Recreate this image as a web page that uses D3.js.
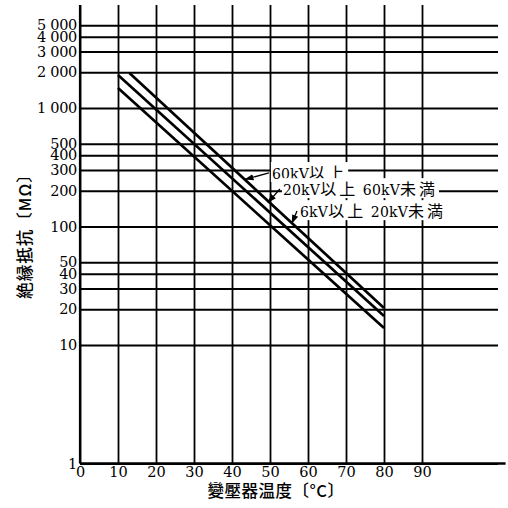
<!DOCTYPE html>
<html><head><meta charset="utf-8">
<script src="https://cdn.jsdelivr.net/npm/d3@7"></script>
<style>body{margin:0;background:#fff}</style>
</head><body>
<svg id="c" width="508" height="508" xmlns="http://www.w3.org/2000/svg"></svg>
<script>
// ---- data ----
const yTicks = [1, 10, 20, 30, 40, 50, 100, 200, 300, 400, 500, 1000, 2000, 3000, 4000, 5000];
const yTickLabels = ["1", "10", "20", "30", "40", "50", "100", "200", "300", "400", "500", "1 000", "2 000", "3 000", "4 000", "5 000"];
const xTicks = [0, 10, 20, 30, 40, 50, 60, 70, 80, 90];
const xTickLabels = ["0", "10", "20", "30", "40", "50", "60", "70", "80", "90"];
const seriesNames = ["60kV以上", "20kV以上 60kV未満", "6kV以上 20kV未満"];
const series60kV = [[13, 1970], [80, 20.5]];
const series20to60kV = [[10, 1900], [80, 17.6]];
const series6to20kV = [[10, 1475], [80, 13.9]];
// label anchors and leader targets, in (temperature, MΩ)
const labelAnchors = [[50.5, 283], [53.4, 207], [57.9, 135]];
const leaderTargets = [[43.5, 250], [49.5, 160], [55.8, 107]];
const xTitle = "變壓器温度〔°C〕";
const yTitle = "絶縁抵抗〔MΩ〕";

// ---- scales ----
const svg = d3.select("#c");
const x = d3.scaleLinear().domain([0, 110]).range([80, 498]);
const y = d3.scaleLog().domain([1, 1000]).range([463.5, 108]);
const yTopVal = 7400;
const serif = "DejaVu Serif";
const cjk = "Noto Sans CJK JP";

// vertical grid
const xAxis = d3.axisBottom(x).tickValues(xTicks)
  .tickFormat((d, i) => xTickLabels[i])
  .tickSize(-(y(1) - y(yTopVal))).tickPadding(3);
const gx = svg.append("g").attr("transform", `translate(0,${y(1)})`).call(xAxis);
gx.select(".domain").remove();
gx.selectAll(".tick line").attr("stroke", "#000").attr("stroke-width", 1.8);
gx.selectAll(".tick text").style("font-family", serif).style("font-size", "14.5px").attr("fill", "#000");

// horizontal grid
const yAxis = d3.axisLeft(y).tickValues(yTicks)
  .tickFormat((d, i) => yTickLabels[i])
  .tickSize(-(x(110) - x(0))).tickPadding(3);
const gy = svg.append("g").attr("transform", `translate(${x(0)},0)`).call(yAxis);
gy.select(".domain").remove();
gy.selectAll(".tick line").attr("stroke", "#000").attr("stroke-width", 2);
gy.selectAll(".tick text").style("font-family", serif).style("font-size", "14.5px")
  .style("letter-spacing", "-0.3px").attr("fill", "#000");

// axes lines
svg.append("line").attr("x1", x(0)).attr("x2", x(112)).attr("y1", y(1)).attr("y2", y(1))
  .attr("stroke", "#000").attr("stroke-width", 2.5);
svg.append("line").attr("x1", x(0)).attr("x2", x(0)).attr("y1", y(1)).attr("y2", y(yTopVal))
  .attr("stroke", "#000").attr("stroke-width", 2.2);

// series lines
const line = d3.line().x(d => x(d[0])).y(d => y(d[1]));
[series60kV, series20to60kV, series6to20kV].forEach(s => {
  svg.append("path").attr("d", line(s)).attr("fill", "none")
    .attr("stroke", "#000").attr("stroke-width", 2.7);
});

// labels with leaders
const defs = svg.append("defs");
defs.append("marker").attr("id", "arr").attr("viewBox", "0 0 10 10")
  .attr("refX", 9).attr("refY", 5).attr("markerWidth", 7).attr("markerHeight", 7)
  .attr("orient", "auto").append("path").attr("d", "M0,1.5L10,5L0,8.5Z").attr("fill", "#000");

seriesNames.forEach((name, i) => {
  const ax = x(labelAnchors[i][0]), ay = y(labelAnchors[i][1]);
  const g = svg.append("g");
  const bg = g.append("rect").attr("fill", "#fff");
  const t = g.append("text").attr("x", ax).attr("y", ay).attr("dy", "0.38em").attr("fill", "#000");
  name.match(/[\x00-\x7F]+|[^\x00-\x7F]+/g).forEach(run => {
    const ascii = /^[\x00-\x7F]+$/.test(run);
    t.append("tspan").text(run)
      .style("font-family", ascii ? serif : cjk)
      .style("font-size", ascii ? "14px" : "16px")
      .style("letter-spacing", ascii ? "0.2px" : "3px");
  });
  const bb = t.node().getBBox();
  bg.attr("x", bb.x - 1).attr("y", bb.y + 2).attr("width", bb.width + 2).attr("height", bb.height - 4);
  svg.append("line").attr("x1", ax - 3).attr("y1", ay)
    .attr("x2", x(leaderTargets[i][0])).attr("y2", y(leaderTargets[i][1]))
    .attr("stroke", "#000").attr("stroke-width", 1.3).attr("marker-end", "url(#arr)");
});

// titles
svg.append("text").attr("x", 276).attr("y", 491).attr("dy", "0.35em")
  .attr("text-anchor", "middle").style("font-family", cjk)
  .style("font-size", "16.5px").style("font-weight", 500).style("letter-spacing", "0.5px")
  .attr("fill", "#000").text(xTitle);
svg.append("text").attr("transform", "translate(25,232) rotate(-90)").attr("dy", "0.35em")
  .attr("text-anchor", "middle").style("font-family", cjk)
  .style("font-size", "16.5px").style("font-weight", 500).style("letter-spacing", "1px")
  .attr("fill", "#000").text(yTitle);
</script>
</body></html>
